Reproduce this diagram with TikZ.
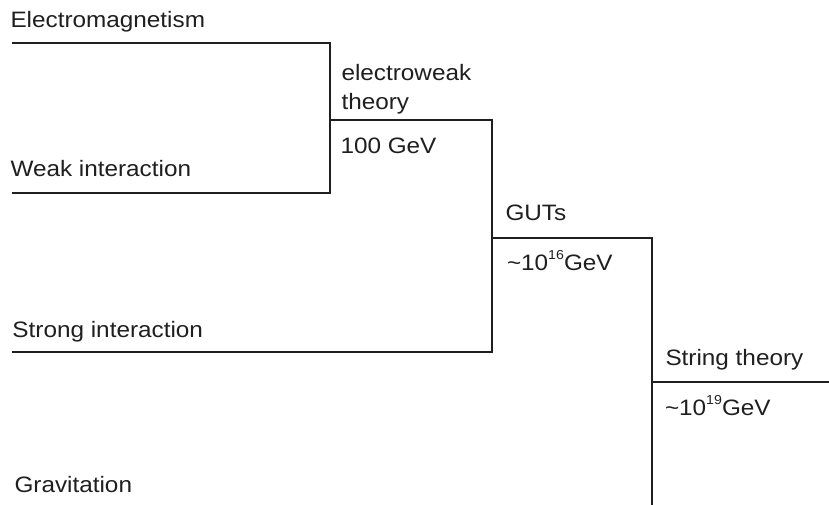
\documentclass[tikz,border=0pt]{standalone}
\usepackage{fontspec}
\setmainfont{Liberation Sans}[FakeStretch=1.09]
\newcommand{\mysup}[1]{\raisebox{0.45em}{\fontsize{13}{13}\selectfont #1}}
\begin{document}
\begin{tikzpicture}[x=1pt,y=-1pt,
  lbl/.style={anchor=base west,inner sep=0pt,outer sep=0pt,text=black!88,font=\fontsize{22.3}{29}\selectfont},
  bar/.style={line width=2pt,draw=black!88,line cap=butt,line join=miter}]
\useasboundingbox (0,0) rectangle (829,505);
% coordinates of the tree
\coordinate (em0) at (12,43.3);
\coordinate (em1) at (330,43.3);
\coordinate (wk0) at (12,192.7);
\coordinate (wk1) at (330,192.7);
\coordinate (ew0) at (330,120);
\coordinate (ew1) at (491.5,120);
\coordinate (st0) at (12,351.5);
\coordinate (st1) at (491.5,351.5);
\coordinate (gu0) at (491.5,238);
\coordinate (gu1) at (652,238);
\coordinate (sg0) at (652,382);
\coordinate (sg1) at (829,382);
\coordinate (bot) at (652,505);
% lines
\draw[bar] (em0) -- (em1) -- (wk1) -- (wk0);
\draw[bar] (ew0) -- (ew1) -- (st1) -- (st0);
\draw[bar] (gu0) -- (gu1) -- (bot);
\draw[bar] (sg0) -- (sg1);
% labels
\node[lbl] (tEM) at (10.5,28) {Electromagnetism};
\node[lbl] (tWK) at (10.5,176) {Weak interaction};
\node[lbl] (tEW1) at (341.5,81) {electroweak};
\node[lbl] (tEW2) at (341.5,110) {theory};
\node[lbl] (tEWE) at (340.5,154) {100 GeV};
\node[lbl] (tGU) at (505.5,220.7) {GUTs};
\node[lbl] (tGUE) at (507,270) {\textasciitilde 10\mysup{16}GeV};
\node[lbl] (tSI) at (12.5,337) {Strong interaction};
\node[lbl] (tSG) at (665.5,365) {String theory};
\node[lbl] (tSGE) at (665,415) {\textasciitilde 10\mysup{19}GeV};
\node[lbl] (tGR) at (14.5,492) {Gravitation};
\end{tikzpicture}
\end{document}
